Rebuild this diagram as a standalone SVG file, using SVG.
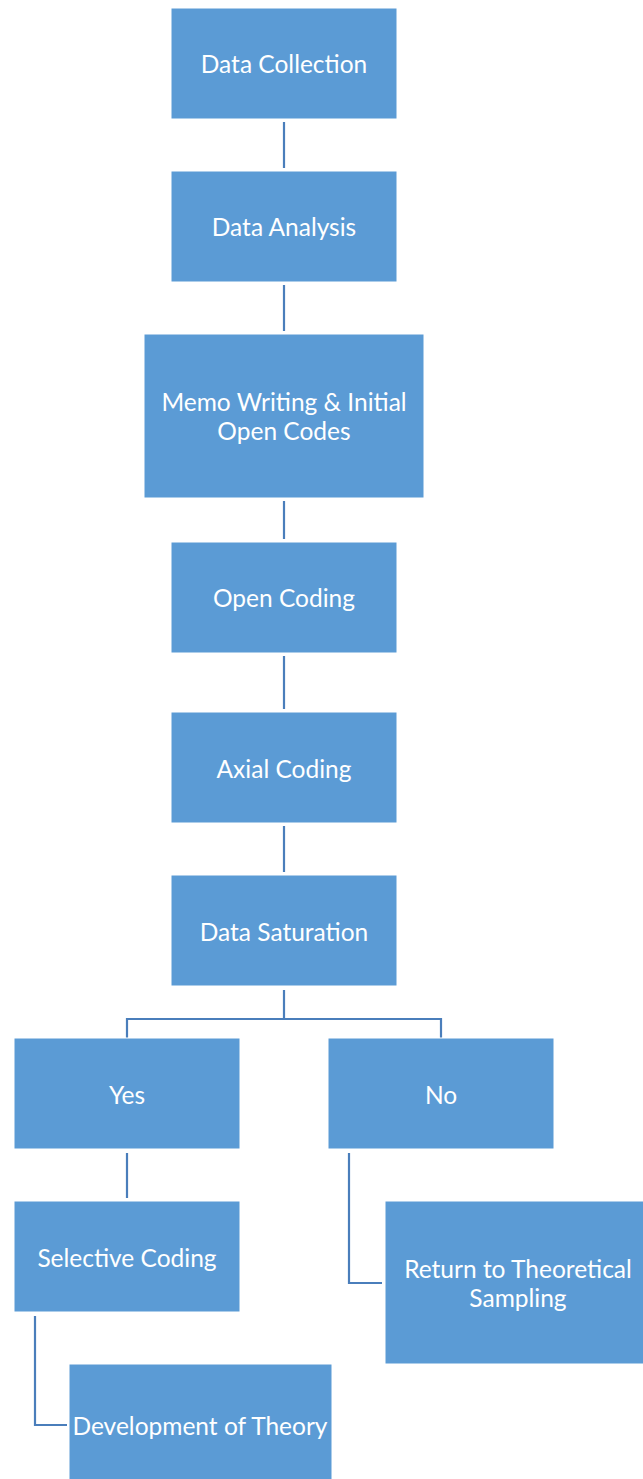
<svg xmlns="http://www.w3.org/2000/svg" width="643" height="1479" viewBox="0 0 643 1479">
  <style>
    .box { fill: #5B9BD5; stroke: #FFFFFF; stroke-width: 1; }
    .lbl { fill: #FFFFFF; font-family: Lato, "Open Sans", "Liberation Sans", sans-serif; font-size: 24.5px; text-anchor: middle; dominant-baseline: central; }
    .conn { fill: none; stroke: #4A7EBB; stroke-width: 2.2; }
  </style>
  <rect width="643" height="1479" fill="#FFFFFF"/>

  <g id="connectors">
    <path class="conn" d="M284 122 V168"/>
    <path class="conn" d="M284 285 V331"/>
    <path class="conn" d="M284 501 V539"/>
    <path class="conn" d="M284 656 V709"/>
    <path class="conn" d="M284 826 V872"/>
    <path class="conn" d="M284 990 V1019 M127 1047 V1019 H441 V1047"/>
    <path class="conn" d="M127 1153 V1198"/>
    <path class="conn" d="M349 1153 V1283 H382"/>
    <path class="conn" d="M35 1316 V1425 H67"/>
  </g>

  <g id="data-collection">
    <rect class="box" x="171" y="8" width="226" height="111"/>
    <text class="lbl" x="284" y="63">Data Collection</text>
  </g>
  <g id="data-analysis">
    <rect class="box" x="171" y="171" width="226" height="111"/>
    <text class="lbl" x="284" y="226">Data Analysis</text>
  </g>
  <g id="memo-writing">
    <rect class="box" x="144" y="334" width="280" height="164"/>
    <text class="lbl" x="284" y="401">Memo Writing &amp; Initial</text>
    <text class="lbl" x="284" y="430">Open Codes</text>
  </g>
  <g id="open-coding">
    <rect class="box" x="171" y="542" width="226" height="111"/>
    <text class="lbl" x="284" y="597">Open Coding</text>
  </g>
  <g id="axial-coding">
    <rect class="box" x="171" y="712" width="226" height="111"/>
    <text class="lbl" x="284" y="768">Axial Coding</text>
  </g>
  <g id="data-saturation">
    <rect class="box" x="171" y="875" width="226" height="111"/>
    <text class="lbl" x="284" y="931">Data Saturation</text>
  </g>
  <g id="yes">
    <rect class="box" x="14" y="1038" width="226" height="111"/>
    <text class="lbl" x="127" y="1094">Yes</text>
  </g>
  <g id="no">
    <rect class="box" x="328" y="1038" width="226" height="111"/>
    <text class="lbl" x="441" y="1094">No</text>
  </g>
  <g id="selective-coding">
    <rect class="box" x="14" y="1201" width="226" height="111"/>
    <text class="lbl" x="127" y="1257">Selective Coding</text>
  </g>
  <g id="return-to-sampling">
    <rect class="box" x="385" y="1201" width="266" height="163"/>
    <text class="lbl" x="518" y="1268">Return to Theoretical</text>
    <text class="lbl" x="518" y="1297">Sampling</text>
  </g>
  <g id="development-of-theory">
    <rect class="box" x="69" y="1364" width="263" height="122"/>
    <text class="lbl" x="200" y="1425">Development of Theory</text>
  </g>
</svg>
